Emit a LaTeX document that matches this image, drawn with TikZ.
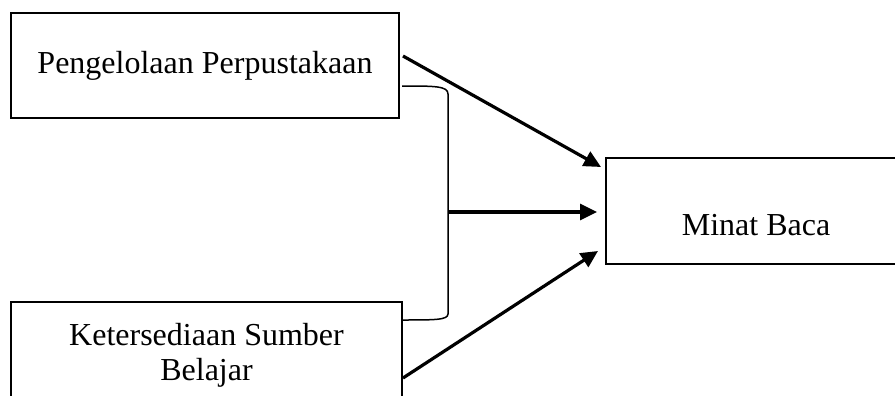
\documentclass[tikz,border=0pt]{standalone}
\usepackage{fontspec}
\setmainfont{Liberation Serif}
\usetikzlibrary{arrows.meta}
\begin{document}
\begin{tikzpicture}[x=0.5pt,y=-0.5pt,
  boxnode/.style={draw, line width=0.75pt, inner sep=0pt, align=center,
    font=\fontsize{16}{17.5}\selectfont},
  arr/.style={line width=1.6pt, -{Triangle[length=8.5pt,width=8pt]}},
  brk/.style={line width=0.75pt}]
\useasboundingbox (0,0) rectangle (895,396);
\clip (0,0) rectangle (895,396);
\fill[white] (0,0) rectangle (895,396);

\node[boxnode, minimum width=194pt, minimum height=52.5pt] (pp) at (205,65.5) {Pengelolaan Perpustakaan};
\node[boxnode, minimum width=195.5pt, minimum height=53pt] (ks) at (206.5,355) {Ketersediaan Sumber\\Belajar};
\node[boxnode, minimum width=150pt, minimum height=53pt, text height=24pt, text depth=0pt] (mb) at (756,211) {Minat Baca};

% bracket
\coordinate (bt) at (402,86);
\coordinate (bb) at (402,320);
\coordinate (bm) at (448,212);
\draw[brk] (bt) .. controls (435,86) and (448,86) .. (448,94) -- (448,314)
  .. controls (448,320) and (435,320) .. (bb);

% arrows
\coordinate (a1) at (403,56);
\coordinate (t1) at (601,167);
\coordinate (a3) at (403,378);
\coordinate (t3) at (598,251);
\coordinate (t2) at (597,212);
\draw[arr] (a1) -- (t1);
\draw[arr] (bm) -- (t2);
\draw[arr] (a3) -- (t3);
\end{tikzpicture}
\end{document}
